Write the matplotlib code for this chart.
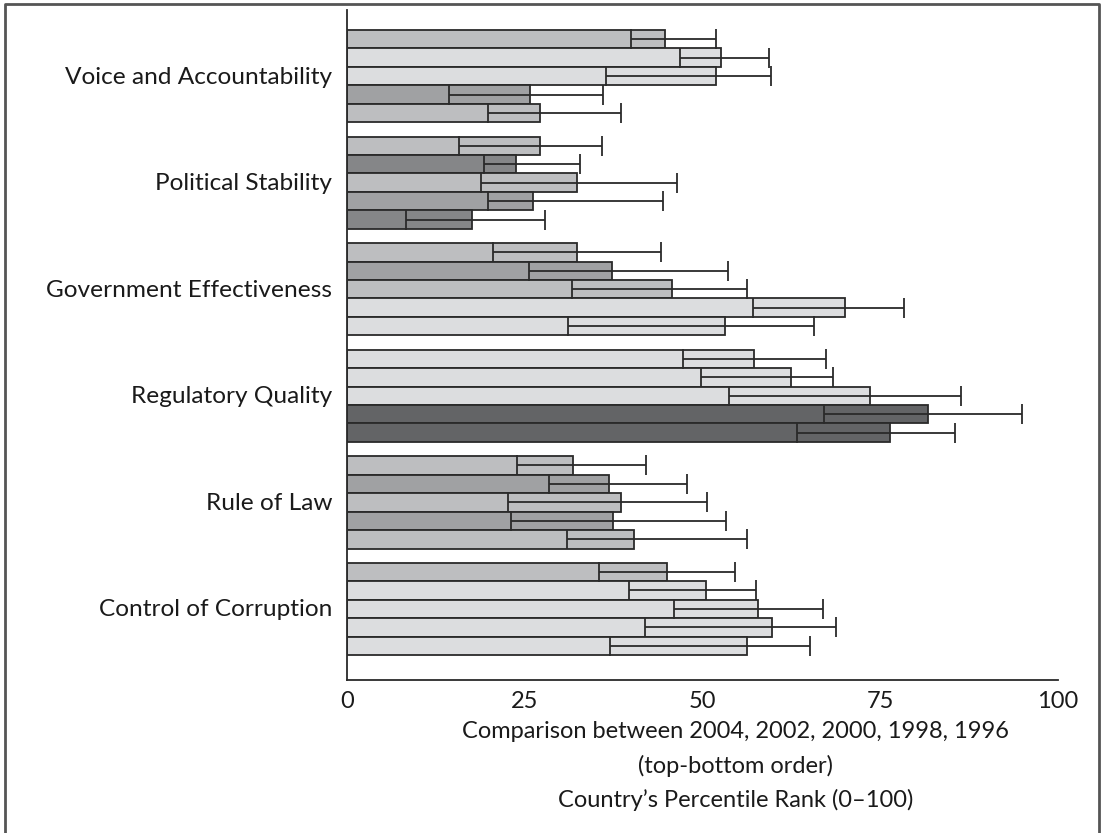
import matplotlib
matplotlib.use("Agg")
import matplotlib.pyplot as plt
from matplotlib.lines import Line2D
import numpy as np

categories = ["Voice and Accountability", "Political Stability",
              "Government Effectiveness", "Regulatory Quality",
              "Rule of Law", "Control of Corruption"]
years = ["2004", "2002", "2000", "1998", "1996"]

# percentile rank, per category, bars in order 2004..1996 (top to bottom)
rank = [
    [44.7, 52.6, 51.9, 25.7, 27.1],
    [27.1, 23.8, 32.3, 26.1, 17.6],
    [32.3, 37.3, 45.7, 70.0, 53.2],
    [57.3, 62.4, 73.5, 81.7, 76.4],
    [31.8, 36.8, 38.5, 37.4, 40.4],
    [45.0, 50.5, 57.8, 59.8, 56.3],
]
lower = [
    [40.0, 46.8, 36.4, 14.4, 19.8],
    [15.8, 19.2, 18.8, 19.8, 8.3],
    [20.5, 25.6, 31.7, 57.1, 31.1],
    [47.2, 49.8, 53.7, 67.1, 63.3],
    [23.9, 28.4, 22.7, 23.0, 31.0],
    [35.4, 39.7, 46.0, 41.9, 37.0],
]
upper = [
    [51.9, 59.4, 59.6, 36.0, 38.5],
    [35.8, 32.8, 46.4, 44.5, 27.9],
    [44.1, 53.6, 56.2, 78.4, 65.7],
    [67.3, 68.4, 86.4, 94.9, 85.5],
    [42.1, 47.8, 50.6, 53.3, 56.3],
    [54.6, 57.5, 67.0, 68.8, 65.1],
]
# shade code per bar (0 light .. 4 dark)
shade = [
    [1, 0, 0, 2, 1],
    [1, 3, 1, 2, 3],
    [1, 2, 1, 0, 0],
    [0, 0, 0, 4, 4],
    [1, 2, 1, 2, 1],
    [1, 0, 0, 0, 0],
]
palette = ["#dcdddf", "#bdbec0", "#a0a1a3", "#858688", "#636466"]

xticks = [0, 25, 50, 75, 100]

W, H = 1101, 833
fig = plt.figure(figsize=(W / 100, H / 100), dpi=100)
ax = fig.add_axes([347 / W, 1 - 680 / H, 711 / W, 670 / H])

FONT = "Lato"
TXT = "#1a1a1a"
pitch = 5.77
n = len(years)
for g, cat in enumerate(categories):
    for i in range(n):
        yc = g * pitch + i + 0.5
        v = rank[g][i]
        ax.barh(yc, v, height=1.0, color=palette[shade[g][i]],
                edgecolor="#2a2a2a", linewidth=1.3, zorder=2)
        ax.errorbar(v, yc, xerr=[[v - lower[g][i]], [upper[g][i] - v]],
                    fmt="none", ecolor="#2a2a2a", elinewidth=1.3,
                    capsize=7.5, capthick=1.3, zorder=3)

ax.set_xlim(0, 100)
ax.set_ylim(5 * pitch + n + 1.35, -1.08)
ax.set_yticks([g * pitch + 2.45 for g in range(len(categories))])
ax.set_yticklabels(categories, fontsize=17.6, family=FONT, color=TXT)
ax.set_xticks(xticks)
ax.set_xticklabels([str(t) for t in xticks], fontsize=17, family=FONT, color=TXT)
ax.tick_params(axis="y", length=0, pad=10.5)
ax.tick_params(axis="x", length=0, pad=8)
for s in ["top", "right"]:
    ax.spines[s].set_visible(False)
for s in ["left", "bottom"]:
    ax.spines[s].set_color("#2a2a2a")
    ax.spines[s].set_linewidth(1.3)

xl = 736 / W
fig.text(xl, 1 - 732 / H, "Comparison between 2004, 2002, 2000, 1998, 1996",
         ha="center", va="center", fontsize=17, family=FONT, color=TXT)
fig.text(xl, 1 - 766 / H, "(top-bottom order)",
         ha="center", va="center", fontsize=17, family=FONT, color=TXT)
fig.text(xl, 1 - 800 / H, "Country\u2019s Percentile Rank (0\u2013100)",
         ha="center", va="center", fontsize=17, family=FONT, color=TXT)

# figure frame (open at bottom)
bx0, bx1, by0 = 4.5 / W, 1099 / W, 1 - 3.5 / H
fig.add_artist(Line2D([bx0, bx0, bx1, bx1], [0, by0, by0, 0],
                      transform=fig.transFigure, color="#555555", linewidth=2))

fig.savefig("out.png", dpi=100)
